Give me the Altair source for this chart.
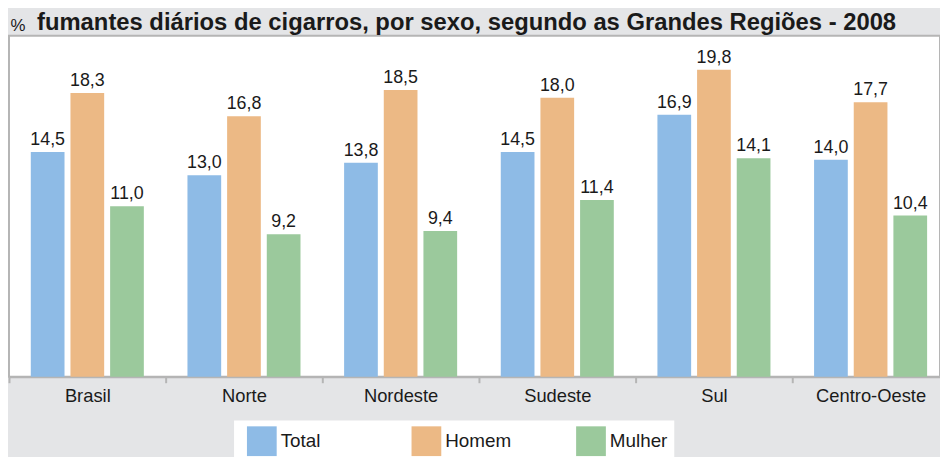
import altair as alt
import pandas as pd

regioes = ["Brasil", "Norte", "Nordeste", "Sudeste", "Sul", "Centro-Oeste"]
total = [14.5, 13.0, 13.8, 14.5, 16.9, 14.0]
homem = [18.3, 16.8, 18.5, 18.0, 19.8, 17.7]
mulher = [11.0, 9.2, 9.4, 11.4, 14.1, 10.4]
series = ["Total", "Homem", "Mulher"]
cores = ["#8ebbe6", "#ecb985", "#9bc99c"]
titulo = "fumantes diários de cigarros, por sexo, segundo as Grandes Regiões - 2008"

rows = []
for i, r in enumerate(regioes):
    for s, vals in zip(series, [total, homem, mulher]):
        v = vals[i]
        rows.append({"Regiao": r, "Sexo": s, "valor": v,
                     "rotulo": f"{v:.1f}".replace(".", ",")})
df = pd.DataFrame(rows)

FONT = "Liberation Sans"
TXT = "#1a1a1a"
GRAY = "#b5b5b5"

x = alt.X("Regiao:N", sort=regioes, title=None,
          scale=alt.Scale(range=[0, 948], paddingInner=0, paddingOuter=0),
          axis=alt.Axis(labelAngle=0, labelFontSize=18.5, labelFont=FONT, labelColor=TXT,
                        labelPadding=4, tickSize=6, tickWidth=2, tickColor=GRAY,
                        domainColor=GRAY, domainWidth=2, tickBand="extent", grid=False))
xo = alt.XOffset("Sexo:N", sort=series,
                 scale=alt.Scale(paddingInner=0.15, paddingOuter=0.55))
y = alt.Y("valor:Q", scale=alt.Scale(domain=[0, 22], nice=False, zero=True),
          axis=alt.Axis(title="%", labels=False, ticks=False, domain=False, grid=False,
                        titleAngle=0, titleAlign="left", titleBaseline="alphabetic",
                        titleX=1, titleY=-5, titleFontSize=17, titleFontWeight="normal",
                        titleFont=FONT, titleColor=TXT))
color = alt.Color("Sexo:N", sort=series,
                  scale=alt.Scale(domain=series, range=cores),
                  legend=alt.Legend(title=None, orient="none", legendX=227, legendY=388,
                                    direction="horizontal", columns=3, fillColor="white",
                                    padding=6, symbolType="square", symbolSize=900,
                                    symbolStrokeWidth=0, symbolOpacity=1,
                                    labelFontSize=19, labelFont=FONT, labelColor=TXT,
                                    labelOffset=4, columnPadding=58, gridAlign="all",
                                    symbolOffset=7))

bars = alt.Chart(df).mark_bar().encode(x=x, xOffset=xo, y=y, color=color)
labels = alt.Chart(df).mark_text(dy=-7, baseline="alphabetic", fontSize=18, font=FONT,
                                 color=TXT).encode(x=x, xOffset=xo, y=y, text="rotulo:N")

chart = alt.layer(bars, labels).properties(
    width=939, height=344,
    title=alt.TitleParams(text=titulo, font=FONT, fontSize=24, fontWeight="bold",
                          color=TXT, anchor="middle", offset=0, dy=18, dx=-8),
    autosize=alt.AutoSizeParams(type="none"),
    padding={"left": 1, "top": 26, "right": 0, "bottom": 79},
    background="#e4e5e7",
).configure_view(fill="white", stroke=GRAY, strokeWidth=2)

chart.save("out.html", embed_options={"renderer": "svg", "actions": False})
